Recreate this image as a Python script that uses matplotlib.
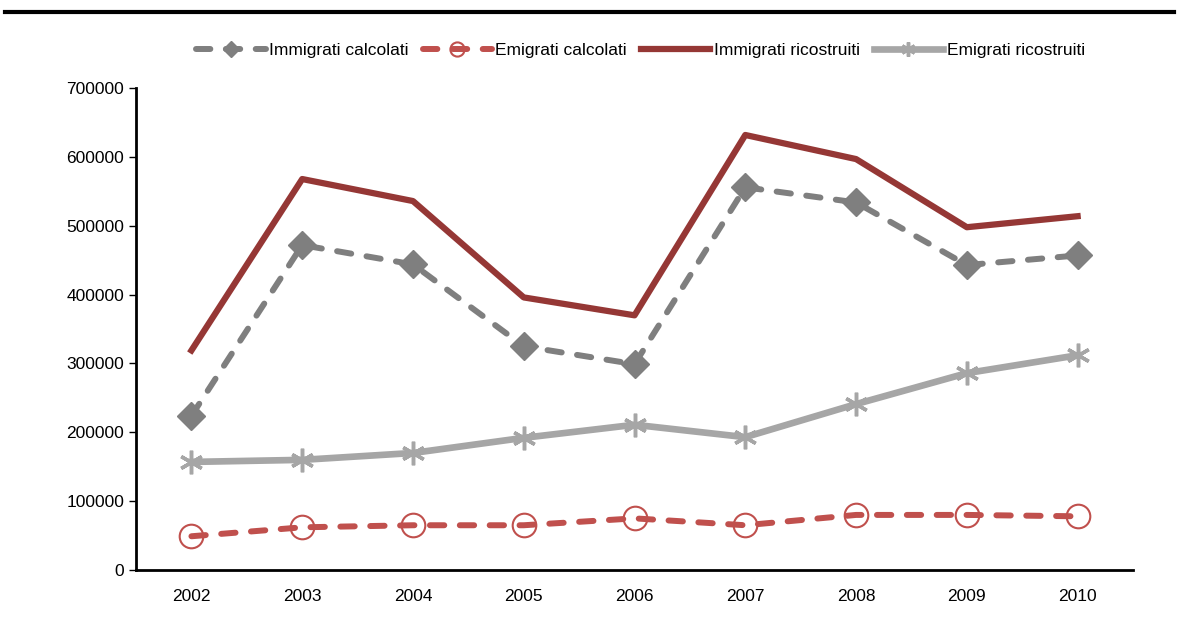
import matplotlib.pyplot as plt
from matplotlib.lines import Line2D

plt.rcParams['font.family'] = ['Liberation Sans', 'DejaVu Sans']

years = ['2002', '2003', '2004', '2005', '2006', '2007', '2008', '2009', '2010']
immigrati_calcolati = [224000, 472000, 444000, 325000, 299000, 556000, 534000, 443000, 457000]
emigrati_calcolati = [49000, 62000, 65000, 65000, 75000, 65000, 80000, 80000, 78000]
immigrati_ricostruiti = [319000, 568000, 536000, 396000, 370000, 632000, 597000, 498000, 514000]
emigrati_ricostruiti = [157000, 160000, 170000, 192000, 211000, 193000, 241000, 286000, 312000]

x = range(len(years))

fig = plt.figure(figsize=(11.78, 6.39), dpi=100)
ax = fig.add_axes([0.1155, 0.108, 0.8463, 0.754])

dash = (0, (2.4, 2.6))
ax.plot(x, immigrati_calcolati, color='#7f7f7f', lw=4.3, ls=dash, dash_capstyle='round',
        marker='D', ms=14, mfc='#7f7f7f', mec='#7f7f7f', label='Immigrati calcolati')
ax.plot(x, emigrati_calcolati, color='#c0504d', lw=4.3, ls=dash, dash_capstyle='round',
        marker='o', ms=17, mfc='none', mec='#c0504d', mew=1.5, label='Emigrati calcolati')
ax.plot(x, immigrati_ricostruiti, color='#953735', lw=4.5, label='Immigrati ricostruiti')
ax.plot(x, emigrati_ricostruiti, color='#a6a6a6', lw=4.8,
        marker=(6, 2, 0), ms=17, mew=2.5, mec='#a6a6a6', label='Emigrati ricostruiti')

ax.set_xlim(-0.5, len(years) - 0.5)
ax.set_ylim(0, 700000)
ax.set_yticks(range(0, 700001, 100000))
ax.set_xticks(list(x))
ax.set_xticklabels(years)
ax.tick_params(axis='y', labelsize=12.5, length=5, width=1, direction='out')
ax.tick_params(axis='x', labelsize=12.5, length=0, pad=14)

for side in ['top', 'right']:
    ax.spines[side].set_visible(False)
for side in ['left', 'bottom']:
    ax.spines[side].set_linewidth(2)

ax.legend(loc='lower center', bbox_to_anchor=(0.506, 1.03), ncol=4, frameon=False,
          fontsize=12.5, handlelength=4, columnspacing=0.8, handletextpad=0.2, markerscale=0.6)

# horizontal rule across the top of the figure
fig.add_artist(Line2D([0.004, 0.997], [0.981, 0.981], color='black', lw=3))

fig.savefig('out.png', dpi=100)
